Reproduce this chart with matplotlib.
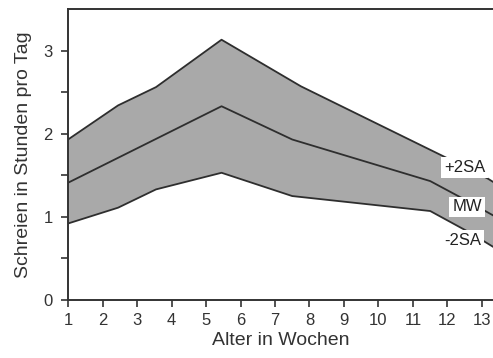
import numpy as np
from matplotlib import pyplot as plt

# Wochen / Werte der drei Kurven
upper_x = [1, 2.45, 3.55, 5.45, 7.75, 12.07, 13.17, 13.4]
upper_y = [1.93, 2.34, 2.56, 3.13, 2.57, 1.69, 1.46, 1.40]

mean_x = [1, 5.45, 7.5, 11.5, 12.4, 13.4]
mean_y = [1.41, 2.33, 1.93, 1.43, 1.23, 1.00]

lower_x = [1, 2.45, 3.55, 5.45, 7.5, 11.5, 12.65, 13.4]
lower_y = [0.92, 1.11, 1.33, 1.53, 1.25, 1.07, 0.81, 0.62]

week_ticks = list(range(1, 14))
hour_ticks = [0, 1, 2, 3]

labels = ["+2SA", "MW", "-2SA"]
label_x = [12.5, 12.57, 12.45]
label_y = [1.59, 1.12, 0.72]

plt.rcParams['font.family'] = ['Liberation Sans', 'DejaVu Sans']

fig = plt.figure(figsize=(4.93, 3.58), dpi=100)
ax = fig.add_axes([0.138, 0.162, 0.862, 0.813])

poly_x = np.concatenate([upper_x, lower_x[::-1]])
poly_y = np.concatenate([upper_y, lower_y[::-1]])
ax.fill(poly_x, poly_y, color='#a9a9a9', lw=0)

line_color = '#2e2e2e'
ax.plot(upper_x, upper_y, color=line_color, lw=1.3)
ax.plot(mean_x, mean_y, color=line_color, lw=1.3)
ax.plot(lower_x, lower_y, color=line_color, lw=1.3)

for txt, x, y in zip(labels, label_x, label_y):
    ax.text(x, y, txt, ha='center', va='center', fontsize=12, color='#222222',
            bbox=dict(facecolor='white', edgecolor='none', pad=2))

ax.set_xlim(1, 13.32)
ax.set_ylim(0, 3.5)
ax.set_xticks(week_ticks)
ax.set_yticks(hour_ticks)
ax.set_yticks([0.5, 1.5, 2.5], minor=True)
ax.tick_params(axis='both', which='both', direction='out', length=5, width=1.2,
               color='#333333', labelsize=12, labelcolor='#333333')
ax.tick_params(axis='y', pad=6)
ax.tick_params(axis='x', pad=4)

for side in ['left', 'bottom', 'top']:
    ax.spines[side].set_linewidth(1.4)
    ax.spines[side].set_color('#333333')
ax.spines['right'].set_visible(False)

ax.set_xlabel("Alter in Wochen", fontsize=14, color='#333333', labelpad=3)
ax.set_ylabel("Schreien in Stunden pro Tag", fontsize=14, color='#333333', labelpad=8)

fig.savefig("out.png", dpi=100)
